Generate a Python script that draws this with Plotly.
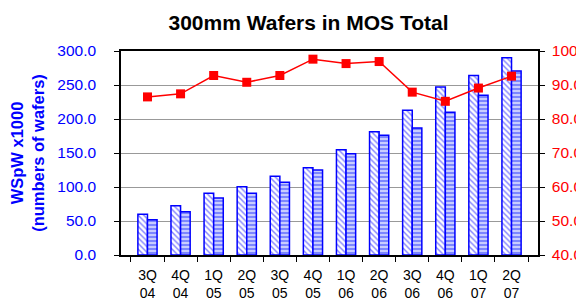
import plotly.graph_objects as go

categories = ["3Q<br>04", "4Q<br>04", "1Q<br>05", "2Q<br>05", "3Q<br>05", "4Q<br>05",
              "1Q<br>06", "2Q<br>06", "3Q<br>06", "4Q<br>06", "1Q<br>07", "2Q<br>07"]
capacity = [60, 72.5, 90.7, 100.5, 115.7, 128.4, 154.7, 181.3, 212.7, 247, 264, 290]
actual = [52, 63.7, 83.8, 90.7, 106.9, 125, 149, 176, 186.8, 209.8, 235, 270.6]
utilization = [86.5, 87.4, 92.8, 90.8, 92.8, 97.6, 96.3, 96.9, 87.9, 85.2, 89.1, 92.6]

FONT = "Liberation Sans, Arial, sans-serif"
BLUE = "#0000ff"
RED = "#ff0000"

fig = go.Figure()
fig.add_trace(go.Bar(
    x=categories, y=capacity, yaxis="y",
    marker=dict(color="white", line=dict(color=BLUE, width=1.5),
                pattern=dict(shape="\\", fgcolor=BLUE, bgcolor="white", size=4, solidity=0.35)),
    showlegend=False,
))
fig.add_trace(go.Bar(
    x=categories, y=actual, yaxis="y",
    marker=dict(color="white", line=dict(color=BLUE, width=1.5),
                pattern=dict(shape="-", fgcolor="#3040ff", bgcolor="#c8ccff", size=4, solidity=0.5)),
    showlegend=False,
))
fig.add_trace(go.Scatter(
    x=categories, y=utilization, yaxis="y2", mode="lines+markers",
    line=dict(color=RED, width=1.5),
    marker=dict(symbol="square", size=9, color=RED),
    showlegend=False,
))

fig.update_layout(
    width=584, height=301,
    margin=dict(l=113, r=54, t=43, b=54, autoexpand=False),
    paper_bgcolor="white", plot_bgcolor="white",
    font=dict(family=FONT, size=15),
    barmode="group", bargap=0.42, bargroupgap=0,
    title=dict(text="<b>300mm Wafers in MOS Total</b>", x=300.5 / 584, xanchor="center",
               y=1 - 14.5 / 301, yanchor="middle", automargin=False,
               font=dict(size=21, color="black", family=FONT)),
    xaxis=dict(
        type="category", showline=True, linecolor="black", linewidth=1.5, mirror=True,
        ticks="outside", tickson="boundaries", ticklen=5, tickcolor="black",
        tickfont=dict(size=14, color="black", family=FONT), showgrid=False,
        ticklabelstandoff=6, automargin=False,
    ),
    yaxis=dict(
        range=[0, 300], dtick=50, tickformat=".1f",
        showline=True, linecolor="black", linewidth=1.5,
        ticks="outside", ticklen=5, tickcolor="black",
        showgrid=True, gridcolor="#999999", gridwidth=1,
        tickfont=dict(size=15.5, color=BLUE, family=FONT),
        ticklabelstandoff=15, automargin=False,
        title=dict(text="<b>WSpW x1000<br>(numbers of wafers)</b>", standoff=12,
                   font=dict(size=16.5, color=BLUE, family=FONT)),
        zeroline=False,
    ),
    yaxis2=dict(
        range=[40, 100], dtick=10, tickformat=".1f", overlaying="y", side="right",
        showline=True, linecolor="black", linewidth=1.5,
        ticks="outside", ticklen=5, tickcolor="black", showgrid=False,
        tickfont=dict(size=15.5, color=RED, family=FONT), zeroline=False,
        ticklabelstandoff=4, automargin=False,
    ),
)

fig.write_html("out.html")
